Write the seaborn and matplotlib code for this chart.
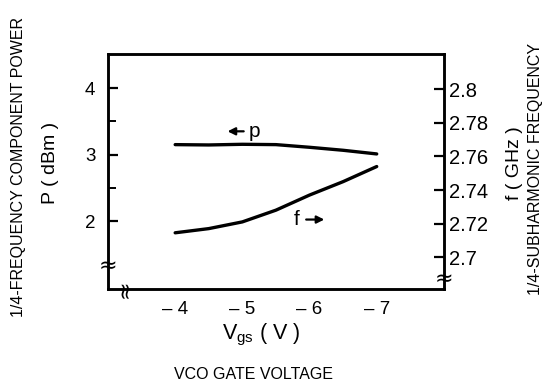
import matplotlib
matplotlib.use("Agg")
import matplotlib.pyplot as plt
import numpy as np
import pandas as pd
import seaborn as sns

# VCO gate voltage (V)
vgs = [-4.0, -4.5, -5.0, -5.5, -6.0, -6.5, -7.0]
# 1/4-frequency component power (dBm)
power_dbm = [3.15, 3.145, 3.155, 3.15, 3.11, 3.065, 3.01]
# 1/4-subharmonic frequency (GHz)
freq_ghz = [2.7145, 2.717, 2.721, 2.728, 2.737, 2.745, 2.754]

x_ticks = [-4, -5, -6, -7]
x_tick_labels = ["\u2013 4", "\u2013 5", "\u2013 6", "\u2013 7"]
p_ticks = [2, 3, 4]
f_ticks = [2.70, 2.72, 2.74, 2.76, 2.78, 2.80]
f_tick_labels = ["2.7", "2.72", "2.74", "2.76", "2.78", "2.8"]

sns.set_style("white")
plt.rcParams["font.family"] = ["Liberation Sans", "DejaVu Sans"]
plt.rcParams["mathtext.default"] = "regular"
for k in ("text.color", "axes.labelcolor", "xtick.color", "ytick.color"):
    plt.rcParams[k] = "black"

df = pd.DataFrame({"vgs": vgs, "p": power_dbm, "f": freq_ghz})

fig = plt.figure(figsize=(5.44, 3.84), dpi=100)
ax = fig.add_axes([0.1985, 0.2474, 0.6175, 0.6116])
ax2 = ax.twinx()

sns.lineplot(data=df, x="vgs", y="p", ax=ax, color="black", lw=2.4)
sns.lineplot(data=df, x="vgs", y="f", ax=ax2, color="black", lw=2.4)

ax.set_xlim(-3, -8)
ax.set_ylim(0.98, 4.51)
ax2.set_ylim(2.681, 2.821)

ax.set_xticks(x_ticks)
ax.set_xticklabels(x_tick_labels)
ax.set_yticks(p_ticks)
ax.set_yticks([2.5, 3.5], minor=True)
ax2.set_yticks(f_ticks)
ax2.set_yticklabels(f_tick_labels)

for a in (ax, ax2):
    a.set_xlabel("")
    a.set_ylabel("")
    for s in a.spines.values():
        s.set_linewidth(1.8)
        s.set_color("black")

ax.tick_params(axis="both", which="major", direction="in", length=7, width=1.6,
               labelsize=13.5)
ax.tick_params(axis="y", which="minor", direction="in", length=6, width=1.4, left=True)
ax.tick_params(axis="y", pad=9)
ax.tick_params(axis="x", pad=9)
ax2.tick_params(axis="y", direction="in", length=7, width=1.6, labelsize=14.5, pad=4)

# curve tags with filled arrowheads
arrow = dict(arrowstyle="-|>", lw=1.6, color="black", mutation_scale=11, shrinkA=0, shrinkB=0)
ax.annotate("", xy=(-4.78, 3.35), xytext=(-5.02, 3.35), arrowprops=arrow)
ax.text(-5.18, 3.35, "p", fontsize=15, ha="center", va="center")
ax2.text(-5.81, 2.7224, "f", fontsize=15, ha="center", va="center")
ax2.annotate("", xy=(-6.22, 2.7224), xytext=(-5.95, 2.7224), arrowprops=arrow)

# axis break marks
brk = dict(transform=ax.transAxes, fontsize=16, ha="center", va="center",
           family="DejaVu Sans")
ax.text(0.0, 0.098, "\u2248", **brk)
ax.text(0.048, 0.0, "\u2248", rotation=90, **brk)
ax.text(1.0, 0.043, "\u2248", **brk)

# axis titles
fig.text(0.48, 0.128, "V$_{gs}$ ( V )", fontsize=15.5, ha="center", va="center")
fig.text(0.466, 0.024, "VCO GATE VOLTAGE", fontsize=11.5, ha="center", va="center")
fig.text(0.092, 0.575, "P ( dBm )", fontsize=14, rotation=90, ha="center", va="center")
fig.text(0.034, 0.565, "1/4-FREQUENCY COMPONENT POWER", fontsize=11.5,
         rotation=90, ha="center", va="center")
fig.text(0.945, 0.575, "f ( GHz )", fontsize=14, rotation=90, ha="center", va="center")
fig.text(0.984, 0.56, "1/4-SUBHARMONIC FREQUENCY", fontsize=11.5,
         rotation=90, ha="center", va="center")

fig.savefig("out.png", dpi=100)
